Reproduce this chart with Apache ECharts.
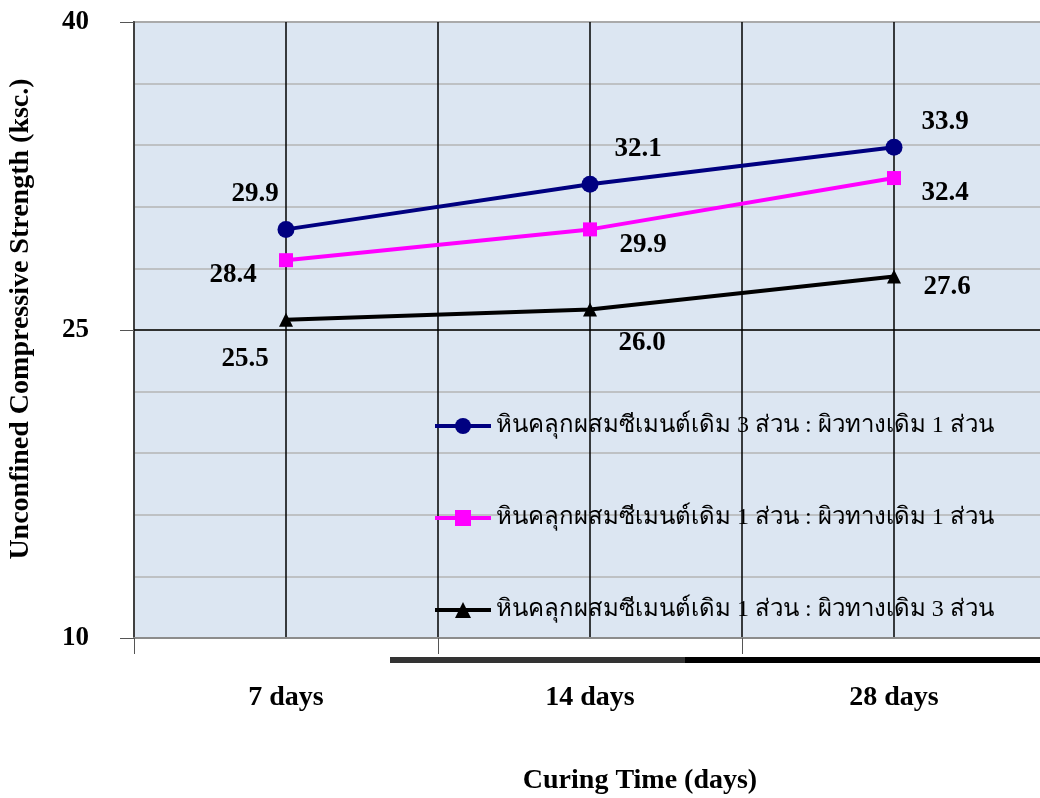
<!DOCTYPE html>
<html>
<head>
<meta charset="utf-8">
<script src="https://cdn.jsdelivr.net/npm/echarts@6/dist/echarts.min.js"></script>
<style>
  html, body { margin: 0; padding: 0; background: #fff; }
  #chart { width: 1040px; height: 798px; }
</style>
</head>
<body>
<div id="chart"></div>
<script>
// data
var categories = ['7 days', '14 days', '28 days'];
var seriesNames = [
  'หินคลุกผสมซีเมนต์เดิม 3 ส่วน : ผิวทางเดิม 1 ส่วน',
  'หินคลุกผสมซีเมนต์เดิม 1 ส่วน : ผิวทางเดิม 1 ส่วน',
  'หินคลุกผสมซีเมนต์เดิม 1 ส่วน : ผิวทางเดิม 3 ส่วน'
];
var mix3to1 = [29.9, 32.1, 33.9];
var mix1to1 = [28.4, 29.9, 32.4];
var mix1to3 = [25.5, 26.0, 27.6];
var yTickLabels = [10, 25, 40];

var serif = '"Liberation Serif", "Times New Roman", serif';

// label placement per point (style only)
var labelOffsets = [
  [[-31, -35], [48, -35], [51, -25]],
  [[-53, 15], [53, 16], [51, 15]],
  [[-41, 39], [52, 34], [53, 10]]
];
var looks = [
  { color: '#000080', symbol: 'circle', size: 17 },
  { color: '#ff00ff', symbol: 'rect', size: 14 },
  { color: '#000000', symbol: 'triangle', size: 14 }
];

function makeSeries(idx, values) {
  var look = looks[idx];
  var s = {
    name: seriesNames[idx],
    type: 'line',
    xAxisIndex: 0,
    yAxisIndex: 0,
    symbol: look.symbol,
    symbolSize: look.size,
    itemStyle: { color: look.color },
    lineStyle: { color: look.color, width: 4 },
    z: 5,
    data: values.map(function (v, i) {
      return {
        value: [i + 0.5, v],
        label: {
          show: true,
          position: 'inside',
          offset: labelOffsets[idx][i],
          formatter: v.toFixed(1),
          color: '#000',
          fontFamily: serif,
          fontWeight: 'bold',
          fontSize: 27
        }
      };
    })
  };
  if (idx === 0) {
    s.markLine = {
      silent: true,
      symbol: 'none',
      label: { show: false },
      lineStyle: { color: '#000', width: 1.5, type: 'solid' },
      data: [{ yAxis: 25 }],
      z: 1
    };
  }
  return s;
}

var boldText = { fontFamily: serif, fontWeight: 'bold', color: '#000' };

var chart = echarts.init(document.getElementById('chart'));
chart.setOption({
  animation: false,
  grid: {
    left: 134, top: 22, right: -6, bottom: 160,
    outerBoundsMode: 'none',
    containLabel: false,
    show: true,
    backgroundColor: '#dce6f2',
    borderColor: '#8c8c8c',
    borderWidth: 2
  },
  legend: {
    orient: 'vertical',
    left: 428,
    top: 409,
    itemGap: 68,
    itemWidth: 56,
    itemHeight: 20,
    lineStyle: { width: 4 },
    textStyle: { fontFamily: serif, fontSize: 24, color: '#000' },
    data: seriesNames
  },
  xAxis: [
    {
      // grid lines at category centres and boundaries
      type: 'value', min: 0, max: 3, interval: 0.5,
      axisLine: { show: true, lineStyle: { color: '#8c8c8c', width: 2 } },
      axisTick: { show: false },
      axisLabel: { show: false },
      splitLine: { show: true, lineStyle: { color: '#000', width: 1.5 } }
    },
    {
      // ticks at category boundaries
      type: 'value', min: 0, max: 3, interval: 1, position: 'bottom',
      axisLine: { show: false },
      axisTick: { show: true, length: 16, lineStyle: { color: '#555' } },
      axisLabel: { show: false },
      splitLine: { show: false }
    },
    {
      // category names
      type: 'value', min: 0, max: 3, position: 'bottom',
      axisLine: { show: false },
      axisTick: { show: false },
      splitLine: { show: false },
      axisLabel: Object.assign({
        customValues: [0.5, 1.5, 2.5],
        margin: 46,
        fontSize: 28,
        formatter: function (v) { return categories[Math.floor(v)] || ''; }
      }, boldText)
    }
  ],
  yAxis: [
    {
      type: 'value', min: 10, max: 40, interval: 3,
      axisLine: { show: true, lineStyle: { color: '#404040', width: 2 } },
      axisTick: { show: false },
      axisLabel: { show: false },
      splitLine: { show: true, lineStyle: { color: '#b4b4b4', width: 1.5 } }
    },
    {
      type: 'value', min: 10, max: 40, position: 'left',
      axisLine: { show: false },
      axisTick: { show: true, length: 14, customValues: yTickLabels, lineStyle: { color: '#555' } },
      splitLine: { show: false },
      axisLabel: Object.assign({
        customValues: yTickLabels,
        margin: 45,
        fontSize: 27
      }, boldText)
    }
  ],
  graphic: [
    { type: 'rect', shape: { x: 390, y: 657, width: 295, height: 6 }, style: { fill: '#333' }, silent: true },
    { type: 'rect', shape: { x: 685, y: 657, width: 355, height: 6 }, style: { fill: '#000' }, silent: true },
    {
      type: 'text', x: 640, y: 781, silent: true,
      style: {
        text: 'Curing Time (days)', align: 'center', verticalAlign: 'middle',
        font: 'bold 28px ' + serif, fill: '#000'
      }
    },
    {
      type: 'text', x: 21, y: 319, rotation: Math.PI / 2, silent: true,
      style: {
        text: 'Unconfined Compressive Strength (ksc.)', align: 'center', verticalAlign: 'middle',
        font: 'bold 28px ' + serif, fill: '#000'
      }
    }
  ],
  series: [
    makeSeries(0, mix3to1),
    makeSeries(1, mix1to1),
    makeSeries(2, mix1to3)
  ]
});
</script>
</body>
</html>
